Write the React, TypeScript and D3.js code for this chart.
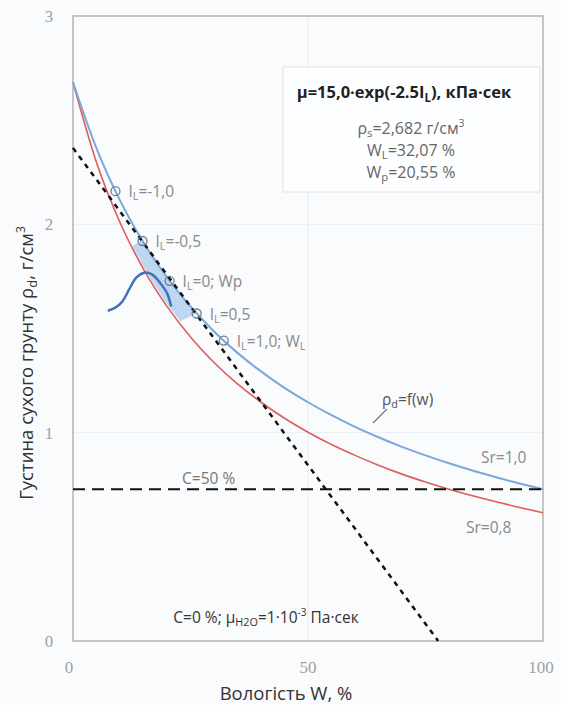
import React from 'react';
import * as d3 from 'd3';

// moisture grid, % and dry density for the two saturation curves, g/cm3
const wGrid = [0, 5, 10, 15, 20, 25, 30, 35, 40, 45, 50, 55, 60, 65, 70, 75, 80, 85, 90, 95, 100];
const rhoSr10 = [2.682, 2.365, 2.115, 1.913, 1.746, 1.606, 1.486, 1.383, 1.294, 1.215, 1.146, 1.084, 1.028, 0.978, 0.932, 0.891, 0.853, 0.818, 0.786, 0.756, 0.728];
const rhoSr08 = [2.682, 2.297, 2.009, 1.785, 1.606, 1.459, 1.337, 1.234, 1.146, 1.069, 1.002, 0.943, 0.891, 0.844, 0.801, 0.763, 0.728, 0.697, 0.668, 0.641, 0.616];

// liquidity index points on Sr=1,0
const liW = [9.03, 14.79, 20.55, 26.31, 32.07];
const liRho = [2.159, 1.92, 1.729, 1.572, 1.442];
const liLabels = [
  [['I', false], ['L', true], ['=-1,0', false]],
  [['I', false], ['L', true], ['=-0,5', false]],
  [['I', false], ['L', true], ['=0; Wp', false]],
  [['I', false], ['L', true], ['=0,5', false]],
  [['I', false], ['L', true], ['=1,0; W', false], ['L', true]],
] as [string, boolean][][];

// C=0 % line and C=50 % level
const trendW = [0, 77.7];
const trendRho = [2.367, 0];
const c50Rho = 0.728;

// compaction curve
const bellW = [7.4, 9, 10.5, 12, 13.5, 15.2, 16.8, 18.5, 20, 20.9];
const bellRho = [1.585, 1.6, 1.63, 1.69, 1.745, 1.768, 1.76, 1.72, 1.67, 1.605];

// shaded band
const bandW = [14.6, 17, 20.5, 23.5, 26.3, 22.8, 19.5, 16.0, 12.6];
const bandRho = [1.925, 1.842, 1.731, 1.645, 1.572, 1.535, 1.635, 1.758, 1.895];

const xTicks = [0, 50, 100];
const yTicks = [0, 1, 2, 3];

const W = 561;
const H = 705;
const font = '"Open Sans", sans-serif';

const Rich = ({ parts, ...rest }: { parts: [string, boolean][]; [k: string]: any }) => (
  <text {...rest}>
    {parts.map(([t, sub], i) => (
      <tspan key={i} baselineShift={sub ? '-30%' : undefined} fontSize={sub ? '70%' : undefined}>
        {t}
      </tspan>
    ))}
  </text>
);

export default function App() {
  const x = d3.scaleLinear().domain([0, 100]).range([73, 543]);
  const y = d3.scaleLinear().domain([0, 3]).range([641, 16]);

  const curve = d3
    .line<number>()
    .x((_, i) => x(wGrid[i]))
    .curve(d3.curveMonotoneX);
  const blueLine = curve.y((d) => y(d))(rhoSr10);
  const redLine = curve.y((d) => y(d))(rhoSr08);

  const bell = d3
    .line<number>()
    .x((d) => x(d))
    .y((_, i) => y(bellRho[i]))
    .curve(d3.curveCatmullRom)(bellW);

  const band =
    bandW.map((w, i) => `${i ? 'L' : 'M'}${x(w)},${y(bandRho[i])}`).join('') + 'Z';

  const sub = (t: string) => (
    <tspan baselineShift="-30%" fontSize="70%">
      {t}
    </tspan>
  );
  const sup = (t: string) => (
    <tspan baselineShift="super" fontSize="65%">
      {t}
    </tspan>
  );

  return (
    <div style={{ position: 'absolute', left: 0, top: 0 }}>
      <svg width={W} height={H} style={{ display: 'block', fontFamily: font }}>
        <rect width={W} height={H} fill="#f9fbfd" />

        {/* grid */}
        {yTicks.slice(1, 3).map((t) => (
          <line key={t} x1={x(0)} x2={x(100)} y1={y(t)} y2={y(t)} stroke="#e9eef2" />
        ))}
        <line x1={x(50)} x2={x(50)} y1={y(0)} y2={y(3)} stroke="#e9eef2" />
        <rect x={x(0)} y={y(3)} width={x(100) - x(0)} height={y(0) - y(3)} fill="none" stroke="#b4b4b4" strokeWidth={1.5} />

        {/* ticks */}
        {yTicks.map((t) => (
          <text key={t} x={49} y={y(t) + 6} textAnchor="middle" fontSize={17} fill="#a0a0a0" fontFamily='"Liberation Serif", serif'>
            {t}
          </text>
        ))}
        {xTicks.map((t) => (
          <text key={t} x={x(t) - (t === 0 ? 4 : t === 100 ? 2 : 0)} y={673} textAnchor="middle" fontSize={17} fill="#a0a0a0" fontFamily='"Liberation Serif", serif'>
            {t}
          </text>
        ))}

        {/* axis titles */}
        <text x={286} y={700} textAnchor="middle" fontSize={18.5} fill="#333">
          Вологість W, %
        </text>
        <text transform="translate(33,363) rotate(-90)" textAnchor="middle" fontSize={18.5} fill="#333">
          Густина сухого грунту ρ{sub('d')}, г/см{sup('3')}
        </text>

        {/* info box */}
        <rect x={283} y={67} width={257} height={125} fill="#fdfeff" stroke="#dfe3e6" />
        <text x={404} y={98} textAnchor="middle" fontSize={16.5} fontWeight="bold" fill="#222">
          μ=15,0·exp(-2.5I{sub('L')}), кПа·сек
        </text>
        <text x={411} y={134} textAnchor="middle" fontSize={16} fill="#666">
          ρ{sub('s')}=2,682 г/см{sup('3')}
        </text>
        <text x={411} y={156} textAnchor="middle" fontSize={16} fill="#666">
          W{sub('L')}=32,07 %
        </text>
        <text x={411} y={178} textAnchor="middle" fontSize={16} fill="#666">
          W{sub('p')}=20,55 %
        </text>

        {/* band and curves */}
        <path d={band} fill="#bdd7f0" />
        <path d={redLine ?? ''} fill="none" stroke="#e05c5c" strokeWidth={1.6} />
        <path d={blueLine ?? ''} fill="none" stroke="#7aa8dc" strokeWidth={2} />
        <line x1={x(trendW[0])} y1={y(trendRho[0])} x2={x(trendW[1])} y2={y(trendRho[1])} stroke="#111" strokeWidth={2.5} strokeDasharray="5 5" />
        <line x1={x(0)} x2={x(100)} y1={y(c50Rho)} y2={y(c50Rho)} stroke="#111" strokeWidth={2} strokeDasharray="12 7" />
        <path d={bell ?? ''} fill="none" stroke="#4472b8" strokeWidth={2.5} />

        {/* IL points */}
        {liW.map((w, i) => (
          <g key={i}>
            <circle cx={x(w)} cy={y(liRho[i])} r={4.5} fill="none" stroke="#6f7d8e" strokeWidth={1.3} />
            <Rich parts={liLabels[i]} x={x(w) + 13} y={y(liRho[i]) + 6} fontSize={15.5} fill="#8a8a8a" />
          </g>
        ))}

        {/* annotations */}
        <line x1={373} y1={423} x2={387} y2={409} stroke="#777" strokeWidth={1.3} />
        <text x={382} y={405} fontSize={15.5} fill="#555">
          ρ{sub('d')}=f(w)
        </text>
        <text x={481} y={463} fontSize={15.5} fill="#8a8a8a">Sr=1,0</text>
        <text x={466} y={533} fontSize={15.5} fill="#8a8a8a">Sr=0,8</text>
        <text x={182} y={484} fontSize={15.5} fill="#777">C=50 %</text>
        <text x={266} y={623} textAnchor="middle" fontSize={15.5} fill="#333">
          C=0 %; μ{sub('H2O')}=1·10{sup('-3')} Па·сек
        </text>
      </svg>
    </div>
  );
}
